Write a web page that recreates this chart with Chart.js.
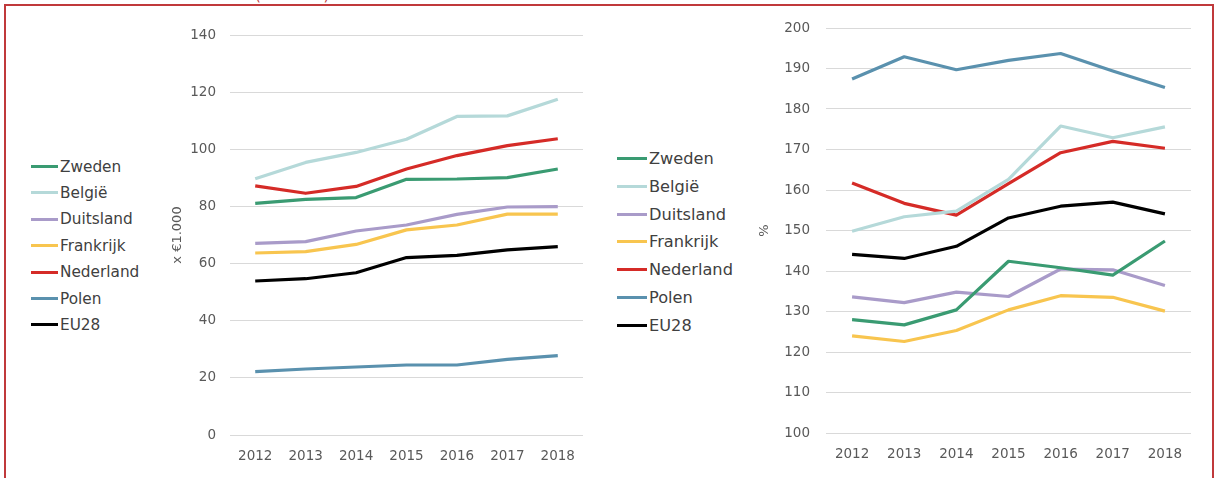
<!DOCTYPE html>
<html><head><meta charset="utf-8">
<script src="https://cdn.jsdelivr.net/npm/chart.js@4.4.0/dist/chart.umd.min.js"></script>
<style>
html,body{margin:0;padding:0;background:#fff;width:1214px;height:478px;overflow:hidden;font-family:"DejaVu Sans",sans-serif;}
#frame{position:absolute;left:4px;top:4px;width:1206px;height:520px;border:2px solid #c0393b;border-bottom:none;}
#toptext{position:absolute;left:255px;top:-14px;font-size:15px;color:#c0393b;white-space:nowrap;}
.cv{position:absolute;}
.item{position:absolute;display:flex;align-items:center;white-space:nowrap;color:#404040;}
.item .sw{display:inline-block;height:3px;margin-right:2px;}
</style></head><body>
<div id="toptext">(2012-18)</div>
<div id="frame"></div>
<div class="cv" style="left:150px;top:0;width:440px;height:478px;"><canvas id="c1"></canvas></div>
<div class="cv" style="left:740px;top:0;width:474px;height:478px;"><canvas id="c2"></canvas></div>
<div id="leg1"></div>
<div id="leg2"></div>
<script>
const years = ['2012','2013','2014','2015','2016','2017','2018'];
const seriesNames = ['Zweden','België','Duitsland','Frankrijk','Nederland','Polen','EU28'];
const seriesColors = ['#3a9b72','#b5d9d9','#a99bc9','#f8c54f','#d52b27','#5a91ae','#000000'];

// Left chart: x €1.000
const leftZweden    = [81.1, 82.5, 83.1, 89.5, 89.6, 90.1, 93.1];
const leftBelgie    = [89.7, 95.4, 98.9, 103.5, 111.5, 111.7, 117.5];
const leftDuitsland = [67.1, 67.7, 71.4, 73.5, 77.2, 79.8, 79.9];
const leftFrankrijk = [63.7, 64.2, 66.7, 71.8, 73.5, 77.3, 77.3];
const leftNederland = [87.2, 84.6, 87.0, 93.1, 97.8, 101.3, 103.7];
const leftPolen     = [22.2, 23.1, 23.8, 24.5, 24.5, 26.5, 27.8];
const leftEU28      = [53.9, 54.7, 56.8, 62.1, 62.9, 64.8, 65.9];

// Right chart: %
const rightZweden    = [128.0, 126.7, 130.4, 142.4, 140.8, 139.0, 147.4];
const rightBelgie    = [149.8, 153.4, 154.8, 162.6, 175.8, 172.9, 175.6];
const rightDuitsland = [133.6, 132.2, 134.8, 133.7, 140.5, 140.3, 136.4];
const rightFrankrijk = [124.0, 122.6, 125.3, 130.4, 133.9, 133.5, 130.1];
const rightNederland = [161.7, 156.7, 153.8, 161.6, 169.2, 172.0, 170.3];
const rightPolen     = [187.4, 192.9, 189.7, 192.0, 193.7, 189.4, 185.3];
const rightEU28      = [144.1, 143.1, 146.1, 153.1, 156.0, 157.0, 154.1];

const leftTicks = {min:0, max:140, step:20};
const rightTicks = {min:100, max:200, step:10};

const leftData = [leftZweden,leftBelgie,leftDuitsland,leftFrankrijk,leftNederland,leftPolen,leftEU28];
const rightData = [rightZweden,rightBelgie,rightDuitsland,rightFrankrijk,rightNederland,rightPolen,rightEU28];

const FONT = '"DejaVu Sans", sans-serif';
const axisColor = '#595959';

function makeChart(id, data, t, title, titleSize, pad, yWidth, xHeight, yPad) {
  return new Chart(document.getElementById(id), {
    type: 'line',
    data: {
      labels: years,
      datasets: seriesNames.map((n, i) => ({
        label: n, data: data[i], borderColor: seriesColors[i], backgroundColor: seriesColors[i],
        borderWidth: 3.2, pointRadius: 0, tension: 0, fill: false,
        borderJoinStyle: 'round', borderCapStyle: 'butt'
      }))
    },
    options: {
      responsive: true, maintainAspectRatio: false, animation: false,
      layout: { padding: pad },
      plugins: { legend: { display: false }, tooltip: { enabled: false } },
      scales: {
        x: {
          offset: true,
          grid: { display: false, drawTicks: false },
          border: { display: false },
          ticks: { color: axisColor, font: { family: FONT, size: 13.5 }, padding: 13, maxRotation: 0 },
          afterFit(s) { s.height = xHeight; }
        },
        y: {
          min: t.min, max: t.max,
          grid: { color: '#d9d9d9', lineWidth: 1, drawTicks: false },
          border: { display: false },
          ticks: { stepSize: t.step, color: axisColor, font: { family: FONT, size: 13.5 }, padding: yPad },
          title: { display: true, text: title, color: axisColor, font: { family: FONT, size: titleSize }, padding: 0 },
          afterFit(s) { s.width = yWidth; }
        }
      }
    }
  });
}

makeChart('c1', leftData, leftTicks, 'x €1.000', 13, {left:20, top:35, right:7, bottom:0}, 60, 43, 14);
makeChart('c2', rightData, rightTicks, '%', 13, {left:17, top:28, right:23, bottom:0}, 69, 45, 16);

function buildLegend(id, x0, lineW, y0, dy, fs) {
  const el = document.getElementById(id);
  seriesNames.forEach((n, i) => {
    const d = document.createElement('div');
    d.className = 'item';
    d.style.left = x0 + 'px';
    d.style.top = (y0 + i * dy - 10) + 'px';
    d.style.height = '20px';
    d.style.fontSize = fs + 'px';
    d.innerHTML = '<span class="sw" style="width:' + lineW + 'px;background:' + seriesColors[i] + '"></span><span>' + n + '</span>';
    el.appendChild(d);
  });
}
buildLegend('leg1', 31, 27, 166.5, 26.4, 15.3);
buildLegend('leg2', 617, 30, 158.5, 27.8, 16.2);
</script>
</body></html>
